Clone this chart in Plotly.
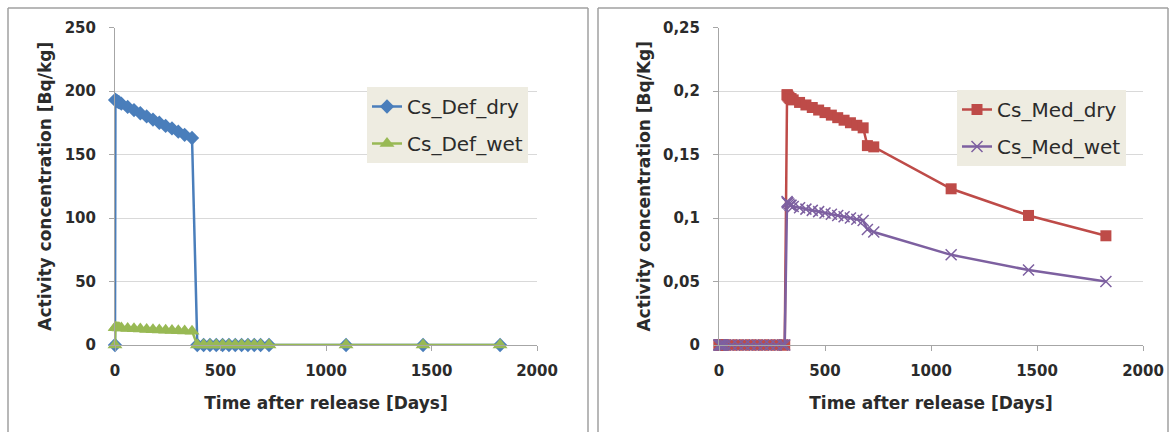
import plotly.graph_objects as go

# ---------------- data ----------------
# Left chart (Cs_Def) : time in days
def_days = [0, 1, 2, 5, 10, 15, 20, 30, 60, 90, 120, 150, 180, 210, 240, 270, 300, 330, 365,
            390, 420, 450, 480, 510, 540, 570, 600, 630, 660, 690, 730, 1095, 1460, 1825]
cs_def_dry = [0, 193, 193, 192.5, 192, 191.5, 191, 190, 187.5, 185, 182.5, 180, 177.5, 175,
              172.5, 170.5, 168, 165.5, 163,
              0, 0, 0, 0, 0, 0, 0, 0, 0, 0, 0, 0, 0, 0, 0]
cs_def_wet = [0, 13.8, 13.8, 13.7, 13.6, 13.5, 13.4, 13.3, 13.0, 12.8, 12.6, 12.3, 12.1, 11.9,
              11.7, 11.5, 11.3, 11.1, 10.9,
              0, 0, 0, 0, 0, 0, 0, 0, 0, 0, 0, 0, 0, 0, 0]

# Right chart (Cs_Med) : time in days
med_days = [0, 1, 2, 5, 10, 15, 20, 30, 60, 90, 120, 150, 180, 210, 240, 270, 300, 310,
            321, 322, 325, 330, 335, 340, 350, 380, 410, 440, 470, 500, 530, 560, 590, 620,
            650, 680, 700, 730, 1095, 1460, 1825]
cs_med_dry = [0] * 18 + [0.197, 0.197, 0.196, 0.195, 0.194, 0.194, 0.193, 0.191, 0.189, 0.187,
                         0.185, 0.183, 0.181, 0.179, 0.177, 0.175, 0.173, 0.171,
                         0.157, 0.156, 0.123, 0.102, 0.086]
cs_med_wet = [0] * 18 + [0.113, 0.112, 0.112, 0.111, 0.110, 0.110, 0.109, 0.108, 0.107, 0.106,
                         0.105, 0.104, 0.103, 0.102, 0.101, 0.100, 0.099, 0.098,
                         0.091, 0.089, 0.071, 0.059, 0.050]

x_tickvals = [0, 500, 1000, 1500, 2000]
x_ticktext = ["0", "500", "1000", "1500", "2000"]
yl_tickvals = [0, 50, 100, 150, 200, 250]
yl_ticktext = ["0", "50", "100", "150", "200", "250"]
yr_tickvals = [0, 0.05, 0.1, 0.15, 0.2, 0.25]
yr_ticktext = ["0", "0,05", "0,1", "0,15", "0,2", "0,25"]

# ---------------- figure ----------------
W, H = 1173, 432
FONT = "DejaVu Sans"
TXT = "#2b2b2b"
GRID = "#d9d9d9"
AXL = "#a6a6a6"
FRAME = "#a0a0a0"

fig = go.Figure()

fig.add_trace(go.Scatter(x=def_days, y=cs_def_dry, name="Cs_Def_dry", mode="lines+markers",
                         line=dict(color="#4A7EBB", width=2.5),
                         marker=dict(symbol="diamond", size=11, color="#4A7EBB"),
                         cliponaxis=False, xaxis="x", yaxis="y", legend="legend",
                         legendgroup="a"))
fig.add_trace(go.Scatter(x=def_days, y=cs_def_wet, name="Cs_Def_wet", mode="lines+markers",
                         line=dict(color="#98B954", width=2.5),
                         marker=dict(symbol="triangle-up", size=13, color="#98B954"),
                         cliponaxis=False, xaxis="x", yaxis="y", legend="legend",
                         legendgroup="b"))
fig.add_trace(go.Scatter(x=med_days, y=cs_med_dry, name="Cs_Med_dry", mode="lines+markers",
                         line=dict(color="#BE4B48", width=2.5),
                         marker=dict(symbol="square", size=11, color="#BE4B48"),
                         cliponaxis=False, xaxis="x2", yaxis="y2", legend="legend2",
                         legendgroup="c"))
fig.add_trace(go.Scatter(x=med_days, y=cs_med_wet, name="Cs_Med_wet", mode="lines+markers",
                         line=dict(color="#7D60A0", width=2.5),
                         marker=dict(symbol="x-thin", size=11, color="#7D60A0",
                                     line=dict(color="#7D60A0", width=1.5)),
                         cliponaxis=False, xaxis="x2", yaxis="y2", legend="legend2",
                         legendgroup="d"))

def px_x(p):
    return p / W

def px_y(p):
    return (H - p) / H

xaxis_common = dict(range=[0, 2000], tickvals=x_tickvals, ticktext=x_ticktext,
                    showgrid=False, zeroline=False, showline=True, linecolor=AXL, linewidth=1,
                    ticks="outside", ticklen=5, tickcolor=AXL, ticklabelstandoff=7,
                    automargin=False,
                    tickfont=dict(family=FONT, size=15, color=TXT, weight="bold"),
                    title=dict(text="Time after release [Days]", standoff=18,
                               font=dict(family=FONT, size=17, color=TXT, weight="bold")),
                    fixedrange=True)
yaxis_common = dict(showgrid=True, gridcolor=GRID, gridwidth=1, zeroline=False,
                    showline=True, linecolor=AXL, linewidth=1,
                    ticks="outside", ticklen=5, tickcolor=AXL, ticklabelstandoff=10,
                    automargin=False,
                    tickfont=dict(family=FONT, size=15, color=TXT, weight="bold"),
                    fixedrange=True)

frame_lines = []
for (l, r) in [(8, 588), (598, 1168)]:
    frame_lines += [
        dict(type="line", xref="paper", yref="paper", x0=px_x(l), x1=px_x(r),
             y0=px_y(8), y1=px_y(8), line=dict(color=FRAME, width=1.5)),
        dict(type="line", xref="paper", yref="paper", x0=px_x(l), x1=px_x(l),
             y0=0, y1=px_y(8), line=dict(color=FRAME, width=1.5)),
        dict(type="line", xref="paper", yref="paper", x0=px_x(r), x1=px_x(r),
             y0=0, y1=px_y(8), line=dict(color=FRAME, width=1.5)),
    ]

fig.update_layout(
    width=W, height=H,
    margin=dict(l=0, r=0, t=0, b=0, autoexpand=False),
    paper_bgcolor="white", plot_bgcolor="white",
    showlegend=True,
    xaxis=dict(domain=[px_x(115), px_x(537)], anchor="y", **xaxis_common),
    yaxis=dict(domain=[px_y(345), px_y(27.5)], anchor="x", range=[0, 250],
               tickvals=yl_tickvals, ticktext=yl_ticktext,
               title=dict(text="Activity concentration [Bq/kg]", standoff=8,
                          font=dict(family=FONT, size=17, color=TXT, weight="bold")),
               **yaxis_common),
    xaxis2=dict(domain=[px_x(719), px_x(1143)], anchor="y2", **xaxis_common),
    yaxis2=dict(domain=[px_y(345), px_y(27.5)], anchor="x2", range=[0, 0.25],
                tickvals=yr_tickvals, ticktext=yr_ticktext,
                title=dict(text="Activity concentration [Bq/Kg]", standoff=8,
                           font=dict(family=FONT, size=17, color=TXT, weight="bold")),
                **yaxis_common),
    legend=dict(x=px_x(367), y=px_y(87), xanchor="left", yanchor="top",
                bgcolor="#EEECE1", borderwidth=0, tracegroupgap=8,
                font=dict(family=FONT, size=20, color=TXT), traceorder="grouped"),
    legend2=dict(x=px_x(957), y=px_y(90), xanchor="left", yanchor="top",
                 bgcolor="#EEECE1", borderwidth=0, tracegroupgap=8,
                 font=dict(family=FONT, size=20, color=TXT), traceorder="grouped"),
    shapes=frame_lines,
)

fig.write_html("out.html", config={"displayModeBar": False},
               post_script="document.body.style.margin='0';document.body.style.overflow='hidden';")
